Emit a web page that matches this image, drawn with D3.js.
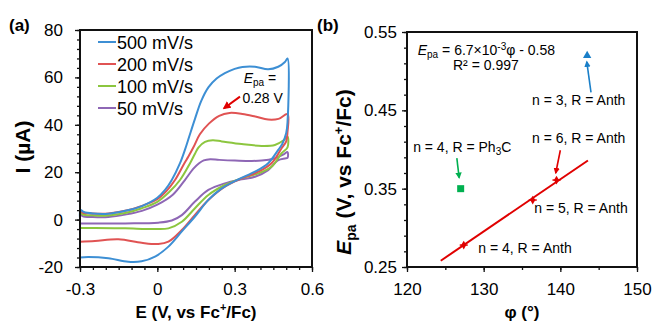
<!DOCTYPE html>
<html>
<head>
<meta charset="utf-8">
<script src="https://cdn.jsdelivr.net/npm/d3@7"></script>
<style>
  body { margin: 0; background: #fff; }
  text { font-family: "Liberation Sans", Arial, sans-serif; fill: #000; }
</style>
</head>
<body>
<svg id="chart" width="653" height="322"></svg>
<script>
// ---- panel (a): cyclic voltammograms, [E (V), I (uA)] ----
const scanRates = ['500 mV/s', '200 mV/s', '100 mV/s', '50 mV/s'];
const cvColors = ['#3d8fd4', '#e05353', '#8cc63f', '#8e67b5'];

const cv500 = [[-0.3, 0.5], [-0.298, 4], [-0.285, 3.2], [-0.25, 2.6], [-0.19, 2.5], [-0.12, 3.8], [-0.06, 5.7],
  [0, 9.2], [0.03, 12.5], [0.056, 16.7], [0.088, 23.8], [0.107, 29.4], [0.125, 35.5], [0.146, 42.5], [0.17, 50],
  [0.198, 55.8], [0.23, 59.5], [0.262, 61.8], [0.3, 63.6], [0.33, 64.4], [0.379, 64.5], [0.43, 63.4], [0.469, 64.5],
  [0.495, 66.5], [0.505, 68], [0.505, 41], [0.5, 36.5], [0.485, 32], [0.469, 29.4], [0.43, 23.8], [0.379, 20.2],
  [0.314, 17], [0.25, 13.2], [0.198, 8.3], [0.146, 1.3], [0.095, -5], [0.043, -11.4], [-0.009, -15.6],
  [-0.061, -17.6], [-0.113, -17.8], [-0.19, -16.3], [-0.268, -15.8], [-0.3, -16]];

const cv200 = [[-0.3, 4.2], [-0.29, 3], [-0.25, 2.6], [-0.19, 2.6], [-0.12, 3.8], [-0.06, 5.8], [0, 8.6],
  [0.035, 12], [0.0685, 16.7], [0.105, 23.8], [0.12, 26.5], [0.14, 30.5], [0.165, 36], [0.2, 40.5], [0.24, 43.8],
  [0.28, 45], [0.33, 44.6], [0.38, 43.5], [0.43, 42.2], [0.47, 42.5], [0.505, 44.5], [0.505, 37], [0.5, 33],
  [0.482, 30.1], [0.443, 23.8], [0.392, 20.2], [0.327, 17.4], [0.262, 13.9], [0.198, 8.3], [0.146, 2],
  [0.095, -4.4], [0.043, -9.3], [0.004, -10.3], [-0.061, -9.8], [-0.151, -8.3], [-0.242, -9], [-0.3, -9.3]];

const cv100 = [[-0.3, 3.5], [-0.29, 2.2], [-0.25, 1.8], [-0.19, 1.7], [-0.12, 2.9], [-0.06, 4.8], [0, 7.5],
  [0.045, 11.5], [0.088, 16.7], [0.127, 23.8], [0.146, 27.8], [0.16, 30.5], [0.185, 32.8], [0.215, 33.5],
  [0.25, 33], [0.327, 31.9], [0.405, 31.1], [0.456, 31.5], [0.49, 33.5], [0.505, 35], [0.505, 30.5], [0.482, 28],
  [0.443, 22.3], [0.392, 19.5], [0.327, 17.4], [0.262, 14.6], [0.198, 10.4], [0.146, 4.8], [0.095, -0.9],
  [0.043, -3.7], [-0.009, -4], [-0.125, -3.7], [-0.242, -3.5], [-0.3, -3.5]];

const cv50 = [[-0.3, 3], [-0.29, 1.5], [-0.25, 1.1], [-0.19, 1.1], [-0.12, 2.2], [-0.06, 3.7], [0, 6.3],
  [0.06, 10.5], [0.107, 16.7], [0.14, 21.5], [0.162, 23.8], [0.18, 25], [0.205, 25.5], [0.24, 25.2], [0.301, 24.9],
  [0.405, 24.9], [0.456, 25.9], [0.49, 27.5], [0.505, 28.5], [0.505, 26], [0.495, 25.8], [0.469, 25.1],
  [0.43, 20.9], [0.379, 18.1], [0.327, 17], [0.262, 15.3], [0.198, 12.5], [0.146, 7.6], [0.095, 1.9],
  [0.056, -0.4], [0.004, -1.3], [-0.125, -1.6], [-0.3, -1.6]];

const cvSeries = [cv500, cv200, cv100, cv50];

const aXTicks = [-0.3, 0, 0.3, 0.6];
const aXMinor = d3.range(-0.3, 0.6001, 0.05);
const aYTicks = [-20, 0, 20, 40, 60, 80];
const aYMinor = d3.range(-20, 80.01, 4);

// ---- panel (b): Epa vs phi ----
const phiAnth = [127.4, 136.4, 139.5];
const epaAnth = [0.278, 0.3355, 0.361];
const phiPh3C = [127];
const epaPh3C = [0.35];
const phiN3 = [143.5];
const epaN3 = [0.52];
const fitPhi = [124.4, 143.6];
const fitEpa = [0.258, 0.386];

const bXTicks = [120, 130, 140, 150];
const bXMinor = d3.range(120, 150.01, 5);
const bYTicks = [0.25, 0.35, 0.45, 0.55];
const bYMinor = d3.range(0.25, 0.5501, 0.02);

const bLabels = [
  { text: 'n = 3, R = Anth', phi: 136.3, epa: 0.457 },
  { text: 'n = 6, R = Anth', phi: 136.3, epa: 0.408 },
  { text: 'n = 5, R = Anth', phi: 136.6, epa: 0.319 },
  { text: 'n = 4, R = Anth', phi: 129.3, epa: 0.268 }
];
const bArrows = [
  { from: [126.5, 0.389], to: [126.8, 0.364], color: '#00b050' },
  { from: [140.0, 0.399], to: [139.4, 0.370], color: '#e00000' },
  { from: [144.0, 0.473], to: [143.45, 0.512], color: '#1a7fc8' }
];

const svg = d3.select('#chart');

const defs = svg.append('defs');
function arrowHead(id, color) {
  defs.append('marker')
    .attr('id', id)
    .attr('viewBox', '0 0 10 10')
    .attr('refX', 8).attr('refY', 5)
    .attr('markerWidth', 4).attr('markerHeight', 4)
    .attr('orient', 'auto')
    .append('path')
    .attr('d', 'M0,0 L10,5 L0,10 z')
    .attr('fill', color);
}

function drawAxes(g, x, y, xt, xm, yt, ym, xFmt, yFmt, yPad) {
  const [x0, x1] = x.range();
  const [y0, y1] = y.range();

  g.append('g')
    .attr('transform', `translate(0,${y0})`)
    .call(d3.axisBottom(x).tickValues(xm).tickSize(3).tickFormat(''))
    .call(a => a.select('.domain').remove());
  g.append('g')
    .attr('transform', `translate(${x0},0)`)
    .call(d3.axisLeft(y).tickValues(ym).tickSize(3).tickFormat(''))
    .call(a => a.select('.domain').remove());

  g.append('g')
    .attr('transform', `translate(0,${y0})`)
    .call(d3.axisBottom(x).tickValues(xt).tickSize(5).tickPadding(11).tickFormat(xFmt))
    .call(a => a.select('.domain').remove())
    .selectAll('text').attr('font-size', '17px');
  g.append('g')
    .attr('transform', `translate(${x0},0)`)
    .call(d3.axisLeft(y).tickValues(yt).tickSize(5).tickPadding(yPad).tickFormat(yFmt))
    .call(a => a.select('.domain').remove())
    .selectAll('text').attr('font-size', '17px');

  g.selectAll('.tick line').attr('stroke', '#111').attr('stroke-width', 1.3);

  g.append('rect')
    .attr('x', x0).attr('y', y1)
    .attr('width', x1 - x0).attr('height', y0 - y1)
    .attr('fill', 'none')
    .attr('stroke', '#111')
    .attr('stroke-width', 2);
}

// ================= panel (a) =================
const ga = svg.append('g');
const xa = d3.scaleLinear().domain([-0.3, 0.6]).range([80, 312]);
const ya = d3.scaleLinear().domain([-20, 80]).range([267, 30]);

const cvLine = d3.line()
  .x(d => xa(d[0]))
  .y(d => ya(d[1]))
  .curve(d3.curveCatmullRom.alpha(0.5));

cvSeries.slice().reverse().forEach((s, i) => {
  ga.append('path')
    .attr('d', cvLine(s))
    .attr('fill', 'none')
    .attr('stroke', cvColors[cvSeries.length - 1 - i])
    .attr('stroke-width', 2);
});

drawAxes(ga, xa, ya, aXTicks, aXMinor, aYTicks, aYMinor, d => String(d), d => String(d), 12);

// legend
scanRates.forEach((name, i) => {
  const ly = 42 + i * 22;
  ga.append('line')
    .attr('x1', 98).attr('x2', 116)
    .attr('y1', ly).attr('y2', ly)
    .attr('stroke', cvColors[i]).attr('stroke-width', 2);
  ga.append('text')
    .attr('x', 117).attr('y', ly + 6.5)
    .attr('font-size', '18px')
    .text(name);
});

// Epa annotation
arrowHead('arrRedA', '#e00000');
ga.append('line')
  .attr('x1', xa(0.3207)).attr('y1', ya(51.9))
  .attr('x2', xa(0.2586)).attr('y2', ya(47))
  .attr('stroke', '#e00000').attr('stroke-width', 2)
  .attr('marker-end', 'url(#arrRedA)');
const epaA = ga.append('text').attr('x', xa(0.335)).attr('y', ya(57.5)).attr('font-size', '14px');
epaA.append('tspan').attr('font-style', 'italic').text('E');
epaA.append('tspan').attr('font-size', '10px').attr('dy', 3).text('pa');
epaA.append('tspan').attr('dy', -3).text(' =');
ga.append('text').attr('x', xa(0.33)).attr('y', ya(49)).attr('font-size', '14px').text('0.28 V');

// titles
const xTitleA = ga.append('text')
  .attr('x', 196).attr('y', 318)
  .attr('text-anchor', 'middle')
  .attr('font-size', '17px').attr('font-weight', 'bold');
xTitleA.append('tspan').text('E (V, vs Fc');
xTitleA.append('tspan').attr('font-size', '11px').attr('dy', -7).text('+');
xTitleA.append('tspan').attr('dy', 7).text('/Fc)');

ga.append('text')
  .attr('transform', 'translate(30,147) rotate(-90)')
  .attr('text-anchor', 'middle')
  .attr('font-size', '21px').attr('font-weight', 'bold')
  .text('I (µA)');

ga.append('text').attr('x', 9).attr('y', 31)
  .attr('font-size', '17px').attr('font-weight', 'bold').text('(a)');

// ================= panel (b) =================
const gb = svg.append('g');
const xb = d3.scaleLinear().domain([120, 150]).range([407, 637]);
const yb = d3.scaleLinear().domain([0.25, 0.55]).range([267, 32]);

drawAxes(gb, xb, yb, bXTicks, bXMinor, bYTicks, bYMinor, d3.format('d'), d3.format('.2f'), 5);

// fit line
gb.append('line')
  .attr('x1', xb(fitPhi[0])).attr('y1', yb(fitEpa[0]))
  .attr('x2', xb(fitPhi[1])).attr('y2', yb(fitEpa[1]))
  .attr('stroke', '#e00000').attr('stroke-width', 2);

// anth points
const anth = phiAnth.map((p, i) => [p, epaAnth[i]]);
gb.selectAll('path.anth')
  .data(anth)
  .enter()
  .append('path')
  .attr('class', 'anth')
  .attr('transform', d => `translate(${xb(d[0])},${yb(d[1])})`)
  .attr('d', d3.symbol(d3.symbolDiamond, 22)())
  .attr('fill', '#e00000');
gb.selectAll('line.err')
  .data(anth)
  .enter()
  .append('line')
  .attr('class', 'err')
  .attr('x1', d => xb(d[0]) - 4).attr('x2', d => xb(d[0]) + 4)
  .attr('y1', d => yb(d[1])).attr('y2', d => yb(d[1]))
  .attr('stroke', '#e00000').attr('stroke-width', 1.5);

// Ph3C square
gb.selectAll('rect.ph3c')
  .data(phiPh3C.map((p, i) => [p, epaPh3C[i]]))
  .enter()
  .append('rect')
  .attr('class', 'ph3c')
  .attr('x', d => xb(d[0]) - 3.5).attr('y', d => yb(d[1]) - 3.5)
  .attr('width', 7).attr('height', 7)
  .attr('fill', '#00b050');

// n = 3 triangle
gb.selectAll('path.n3')
  .data(phiN3.map((p, i) => [p, epaN3[i]]))
  .enter()
  .append('path')
  .attr('class', 'n3')
  .attr('transform', d => `translate(${xb(d[0])},${yb(d[1])})`)
  .attr('d', d3.symbol(d3.symbolTriangle, 30)())
  .attr('fill', '#1a7fc8');

// arrows
bArrows.forEach((a, i) => {
  arrowHead('arrB' + i, a.color);
  gb.append('line')
    .attr('x1', xb(a.from[0])).attr('y1', yb(a.from[1]))
    .attr('x2', xb(a.to[0])).attr('y2', yb(a.to[1]))
    .attr('stroke', a.color).attr('stroke-width', 1.6)
    .attr('marker-end', `url(#arrB${i})`);
});

// labels
bLabels.forEach(l => {
  gb.append('text')
    .attr('x', xb(l.phi)).attr('y', yb(l.epa))
    .attr('font-size', '14px')
    .text(l.text);
});
const ph3cLbl = gb.append('text').attr('x', xb(120.8)).attr('y', yb(0.397)).attr('font-size', '14px');
ph3cLbl.append('tspan').text('n = 4, R = Ph');
ph3cLbl.append('tspan').attr('font-size', '10px').attr('dy', 3).text('3');
ph3cLbl.append('tspan').attr('dy', -3).text('C');

// equation
const eq = gb.append('text').attr('x', xb(121.4)).attr('y', yb(0.5206)).attr('font-size', '14px');
eq.append('tspan').attr('font-style', 'italic').text('E');
eq.append('tspan').attr('font-size', '10px').attr('dy', 3).text('pa');
eq.append('tspan').attr('dy', -3).text(' = 6.7×10');
eq.append('tspan').attr('font-size', '10px').attr('dy', -5).text('-3');
eq.append('tspan').attr('dy', 5).text('φ - 0.58');
gb.append('text').attr('x', xb(126)).attr('y', yb(0.5015)).attr('font-size', '14px').text('R² = 0.997');

// titles
gb.append('text')
  .attr('x', 522).attr('y', 318)
  .attr('text-anchor', 'middle')
  .attr('font-size', '17px').attr('font-weight', 'bold')
  .text('φ (°)');

const yTitleB = gb.append('text')
  .attr('transform', 'translate(351,172) rotate(-90)')
  .attr('text-anchor', 'middle')
  .attr('font-size', '21px').attr('font-weight', 'bold');
yTitleB.append('tspan').attr('font-style', 'italic').text('E');
yTitleB.append('tspan').attr('font-size', '14px').attr('dy', 5).text('pa');
yTitleB.append('tspan').attr('dy', -5).text(' (V, vs Fc');
yTitleB.append('tspan').attr('font-size', '13px').attr('dy', -8).text('+');
yTitleB.append('tspan').attr('dy', 8).text('/Fc)');

gb.append('text').attr('x', 317).attr('y', 31)
  .attr('font-size', '17px').attr('font-weight', 'bold').text('(b)');
</script>
</body>
</html>
